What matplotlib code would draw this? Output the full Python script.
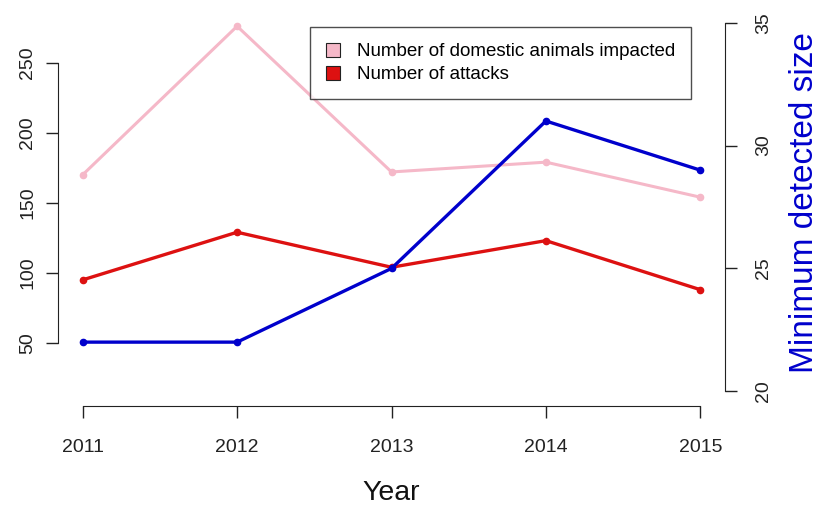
import matplotlib.pyplot as plt
import matplotlib.patches as mpatches

plt.rcParams['font.family'] = ['Liberation Sans', 'DejaVu Sans']

# yearly series
years = [2011, 2012, 2013, 2014, 2015]
animals_impacted = [170, 276, 172, 179, 154]
attacks = [95, 129, 104, 123, 88]
min_size = [22, 22, 25, 31, 29]

left_ticks = [50, 100, 150, 200, 250]
right_ticks = [20, 25, 30, 35]

pink = '#f5b8c8'
red = '#dd1111'
blue = '#0000cc'
ink = '#222222'

fig = plt.figure(figsize=(8.2, 5.11), dpi=100)
ax = fig.add_axes([58 / 820, 105 / 511, 667 / 820, 398 / 511])

ax.plot(years, animals_impacted, color=pink, lw=2.2, marker='o', ms=4.5)
ax.plot(years, attacks, color=red, lw=2.4, marker='o', ms=4.5)
ax.set_xlim(2010.84, 2015.16)
ax.set_ylim(5, 289)

ax2 = ax.twinx()
ax2.plot(years, min_size, color=blue, lw=2.4, marker='o', ms=4.5)
ax2.set_ylim(19.4, 35.6)

ax.set_xticks(years)
ax.set_yticks(left_ticks)
ax2.set_yticks(right_ticks)
ax.tick_params(axis='x', length=8.5, width=1.0, colors=ink, labelsize=14, pad=15)
ax.tick_params(axis='y', length=8.5, width=1.0, colors=ink, labelsize=14, pad=7,
               labelrotation=90)
ax2.tick_params(axis='y', length=8.5, width=1.0, colors=ink, labelsize=14, pad=13,
                labelrotation=90)
plt.setp(ax.get_yticklabels(), va='center')
plt.setp(ax2.get_yticklabels(), va='center')

for a in (ax, ax2):
    a.spines['top'].set_visible(False)
    for s in ('left', 'right', 'bottom'):
        a.spines[s].set_color(ink)
ax2.spines['left'].set_visible(False)
ax2.spines['bottom'].set_visible(False)
ax.spines['right'].set_visible(False)
ax.spines['left'].set_bounds(50, 250)
ax.spines['bottom'].set_bounds(2011, 2015)
ax2.spines['right'].set_bounds(20, 35)

fig.text(391 / 820, 1 - 493 / 511, 'Year', fontsize=20.5, color='#111111',
         ha='center', va='center')
fig.text(805 / 820, 1 - 203 / 511, 'Minimum detected size', fontsize=24,
         color=blue, rotation=90, ha='center', va='center')

handles = [mpatches.Patch(facecolor=pink, edgecolor=ink, lw=0.8),
           mpatches.Patch(facecolor=red, edgecolor=ink, lw=0.8)]
leg = ax.legend(handles, ['Number of domestic animals impacted', 'Number of attacks'],
                loc='upper left', bbox_to_anchor=(252 / 667, 1 - 19 / 398),
                fontsize=13.5, frameon=True, fancybox=False, borderpad=0.85,
                handlelength=0.75, handleheight=0.75, handletextpad=0.9,
                labelspacing=0.3, borderaxespad=0)
leg.get_frame().set_edgecolor(ink)
leg.get_frame().set_linewidth(1.0)

fig.savefig('out.png', dpi=100)
